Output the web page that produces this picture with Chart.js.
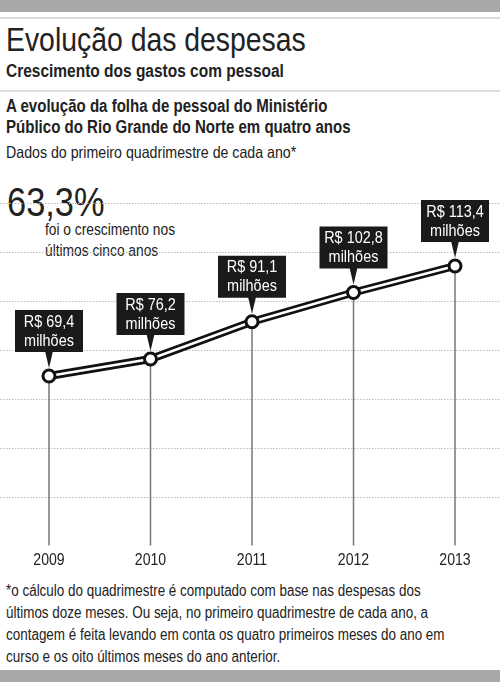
<!DOCTYPE html>
<html><head><meta charset="utf-8">
<script src="https://cdn.jsdelivr.net/npm/chart.js@4"></script>
<style>
body{margin:0;width:500px;height:682px;position:relative;background:#fff;font-family:"Liberation Sans Narrow","Liberation Sans",sans-serif;color:#222;overflow:hidden}
.t{position:absolute;left:6px;white-space:nowrap;transform:scaleX(0.86);transform-origin:0 0}
#c{position:absolute;left:0;top:0}
</style></head><body>
<div style="position:absolute;left:0;top:0;width:500px;height:12px;background:#a8a8a8"></div>
<div style="position:absolute;left:0;top:17px;width:500px;height:2px;background:#ddd"></div>
<div class="t" style="top:21px;font-size:33px;color:#222">Evolução das despesas</div>
<div class="t" style="top:61px;font-size:18px;font-weight:bold">Crescimento dos gastos com pessoal</div>
<div style="position:absolute;left:0;top:90px;width:500px;height:2px;background:#ddd"></div>
<div class="t" style="top:96px;font-size:17.5px;font-weight:bold;line-height:21px">A evolução da folha de pessoal do Ministério<br>Público do Rio Grande do Norte em quatro anos</div>
<div class="t" style="top:143px;font-size:16.5px">Dados do primeiro quadrimestre de cada ano*</div>
<div class="t" style="top:180px;left:7px;font-size:40px">63,3%</div>
<div class="t" style="top:219px;left:45px;font-size:16px;line-height:21px">foi o crescimento nos<br>últimos cinco anos</div>
<div class="t" style="top:580px;font-size:16px;line-height:22px;transform:scaleX(0.84)">*o cálculo do quadrimestre é computado com base nas despesas dos<br>últimos doze meses. Ou seja, no primeiro quadrimestre de cada ano, a<br>contagem é feita levando em conta os quatro primeiros meses do ano em<br>curso e os oito últimos meses do ano anterior.</div>
<div style="position:absolute;left:0;top:670px;width:500px;height:12px;background:#a8a8a8"></div>
<canvas id="c" width="500" height="682"></canvas>
<script>
const years=["2009","2010","2011","2012","2013"];
const values=[69.4,76.2,91.1,102.8,113.4];
const labels=["R$ 69,4","R$ 76,2","R$ 91,1","R$ 102,8","R$ 113,4"];
const unit="milhões";
const font='"Liberation Sans Narrow","Liberation Sans",sans-serif';
function sx(c,txt,x,y,w){c.save();c.translate(x,y);c.scale(w,1);c.fillText(txt,0,0);c.restore();}
const deco={id:'deco',
 beforeDatasetsDraw(ch){
  const c=ch.ctx,y=ch.scales.y,x=ch.scales.x;
  c.save();
  c.strokeStyle='#bbb';c.lineWidth=1;c.setLineDash([1.5,1.5]);
  for(let v=21.2;v<=140;v+=19.6){const p=Math.round(y.getPixelForValue(v))+0.5;c.beginPath();c.moveTo(0,p);c.lineTo(500,p);c.stroke();}
  c.setLineDash([]);
  c.strokeStyle='#777';c.lineWidth=1.5;
  values.forEach((v,i)=>{const px=x.getPixelForValue(i);c.beginPath();c.moveTo(px,y.getPixelForValue(v));c.lineTo(px,y.bottom);c.stroke();});
  c.fillStyle='#222';c.font='16px '+font;c.textAlign='center';c.textBaseline='middle';
  years.forEach((t,i)=>sx(c,t,x.getPixelForValue(i),561,0.88));
  c.restore();
 },
 afterDatasetsDraw(ch){
  const c=ch.ctx,y=ch.scales.y,x=ch.scales.x;
  c.save();
  values.forEach((v,i)=>{const px=x.getPixelForValue(i),py=y.getPixelForValue(v);
   let cx=Math.min(px,455);const bx=cx-34,by=py-66;
   c.fillStyle='#1a1a1a';c.fillRect(bx,by,68,42);
   c.beginPath();c.moveTo(px-4,by+41);c.lineTo(px+4,by+41);c.lineTo(px,py-8);c.closePath();c.fill();
   c.fillStyle='#fff';c.font='17px '+font;c.textAlign='center';c.textBaseline='middle';
   sx(c,labels[i],cx,by+12,0.85);sx(c,unit,cx,by+31,0.85);});
  c.restore();
 }};
new Chart(document.getElementById('c'),{type:'line',
 data:{labels:years,datasets:[
  {data:values,borderColor:'#111',borderWidth:8,pointRadius:0,order:2},
  {data:values,borderColor:'#fff',borderWidth:2.5,pointRadius:6,pointBackgroundColor:'#fff',pointBorderColor:'#111',pointBorderWidth:3,order:1}]},
 options:{responsive:false,animation:false,events:[],
  layout:{padding:{left:49,right:45,top:202.5,bottom:136.5}},
  plugins:{legend:{display:false},tooltip:{enabled:false}},
  scales:{x:{display:false,offset:false},y:{display:false,min:1.6,max:138.8}}},
 plugins:[deco]});
</script></body></html>
